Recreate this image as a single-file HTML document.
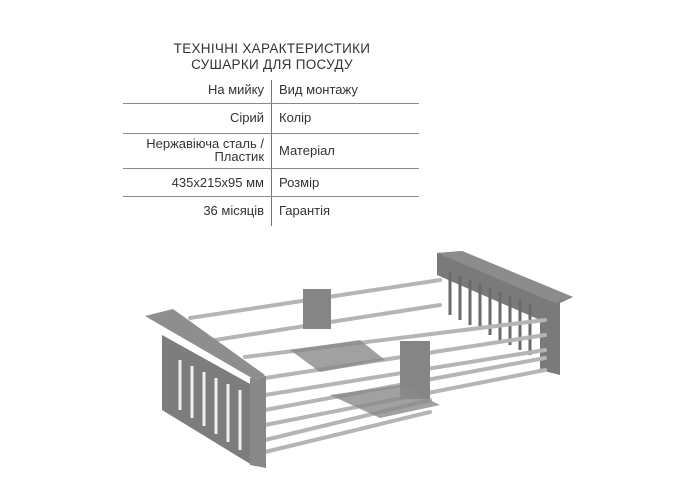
<!DOCTYPE html>
<html><head><meta charset="utf-8"><style>
body{margin:0;width:700px;height:500px;background:#fff;position:relative;overflow:hidden;font-family:"Liberation Sans",sans-serif;color:#333}
.t{position:absolute;font-size:13px;line-height:14px;white-space:nowrap}
.l{right:436px;text-align:right}
.r{left:279px}
.h{position:absolute;left:123px;width:296px;height:1px;background:#888}
</style></head><body>
<div class="t" style="left:0;width:544px;text-align:center;top:41px;font-size:13.5px;line-height:16px;letter-spacing:0.3px">ТЕХНІЧНІ ХАРАКТЕРИСТИКИ<br>СУШАРКИ ДЛЯ ПОСУДУ</div>
<div style="position:absolute;left:271px;top:80px;width:1px;height:146px;background:#777"></div>
<div class="t l" style="top:83px">На мийку</div><div class="t r" style="top:83px">Вид монтажу</div>
<div class="h" style="top:103px"></div>
<div class="t l" style="top:111px">Сірий</div><div class="t r" style="top:111px">Колір</div>
<div class="h" style="top:133px"></div>
<div class="t l" style="top:137px;line-height:13px">Нержавіюча сталь /<br>Пластик</div><div class="t r" style="top:144px">Матеріал</div>
<div class="h" style="top:168px"></div>
<div class="t l" style="top:176px">435x215x95 мм</div><div class="t r" style="top:176px">Розмір</div>
<div class="h" style="top:196px"></div>
<div class="t l" style="top:204px">36 місяців</div><div class="t r" style="top:204px">Гарантія</div>
<svg style="position:absolute;left:0;top:0" width="700" height="500">
<!-- right end -->
<polygon points="437,253 462,251 573,297 560,303 560,375 540,370 540,320 437,275" fill="#7a7a7a"/>
<polygon points="437,253 462,251 573,297 555,303" fill="#8c8c8c"/>
<g stroke="#6a6a6a" stroke-width="3">
<line x1="450" y1="272" x2="450" y2="315"/><line x1="460" y1="276" x2="460" y2="320"/><line x1="470" y1="280" x2="470" y2="325"/><line x1="480" y1="284" x2="480" y2="330"/><line x1="490" y1="288" x2="490" y2="335"/><line x1="500" y1="292" x2="500" y2="340"/><line x1="510" y1="296" x2="510" y2="345"/><line x1="520" y1="300" x2="520" y2="350"/><line x1="530" y1="304" x2="530" y2="355"/>
</g>
<!-- rods -->
<g stroke="#b8b4b6" stroke-width="4" stroke-linecap="round">
<line x1="190" y1="318" x2="440" y2="280"/>
<line x1="215" y1="340" x2="440" y2="305"/>
<line x1="245" y1="357" x2="545" y2="320"/>
<line x1="265" y1="378" x2="545" y2="335"/>
<line x1="265" y1="395" x2="545" y2="350"/>
<line x1="265" y1="410" x2="545" y2="358"/>
<line x1="265" y1="425" x2="545" y2="370"/>
<line x1="265" y1="440" x2="430" y2="400"/>
<line x1="265" y1="452" x2="430" y2="412"/>
</g>
<!-- clips -->
<rect x="303" y="289" width="28" height="40" fill="#858585"/>
<rect x="400" y="341" width="30" height="58" fill="#858585"/>
<polygon points="290,350 360,340 385,360 320,372" fill="#8a8a8a" opacity="0.8"/>
<polygon points="330,395 400,385 440,405 380,418" fill="#8a8a8a" opacity="0.8"/>
<!-- left end -->
<polygon points="162,335 252,385 252,465 162,410" fill="#7d7d7d"/>
<g stroke="#f0f0f0" stroke-width="3">
<line x1="180" y1="360" x2="180" y2="410"/><line x1="192" y1="366" x2="192" y2="418"/><line x1="204" y1="372" x2="204" y2="426"/><line x1="216" y1="378" x2="216" y2="434"/><line x1="228" y1="384" x2="228" y2="442"/><line x1="240" y1="390" x2="240" y2="450"/>
</g>
<polygon points="250,378 266,376 266,468 250,465" fill="#888"/>
<polygon points="145,316 173,309 265,375 257,381" fill="#8e8e8e"/>
</svg>
</body></html>
